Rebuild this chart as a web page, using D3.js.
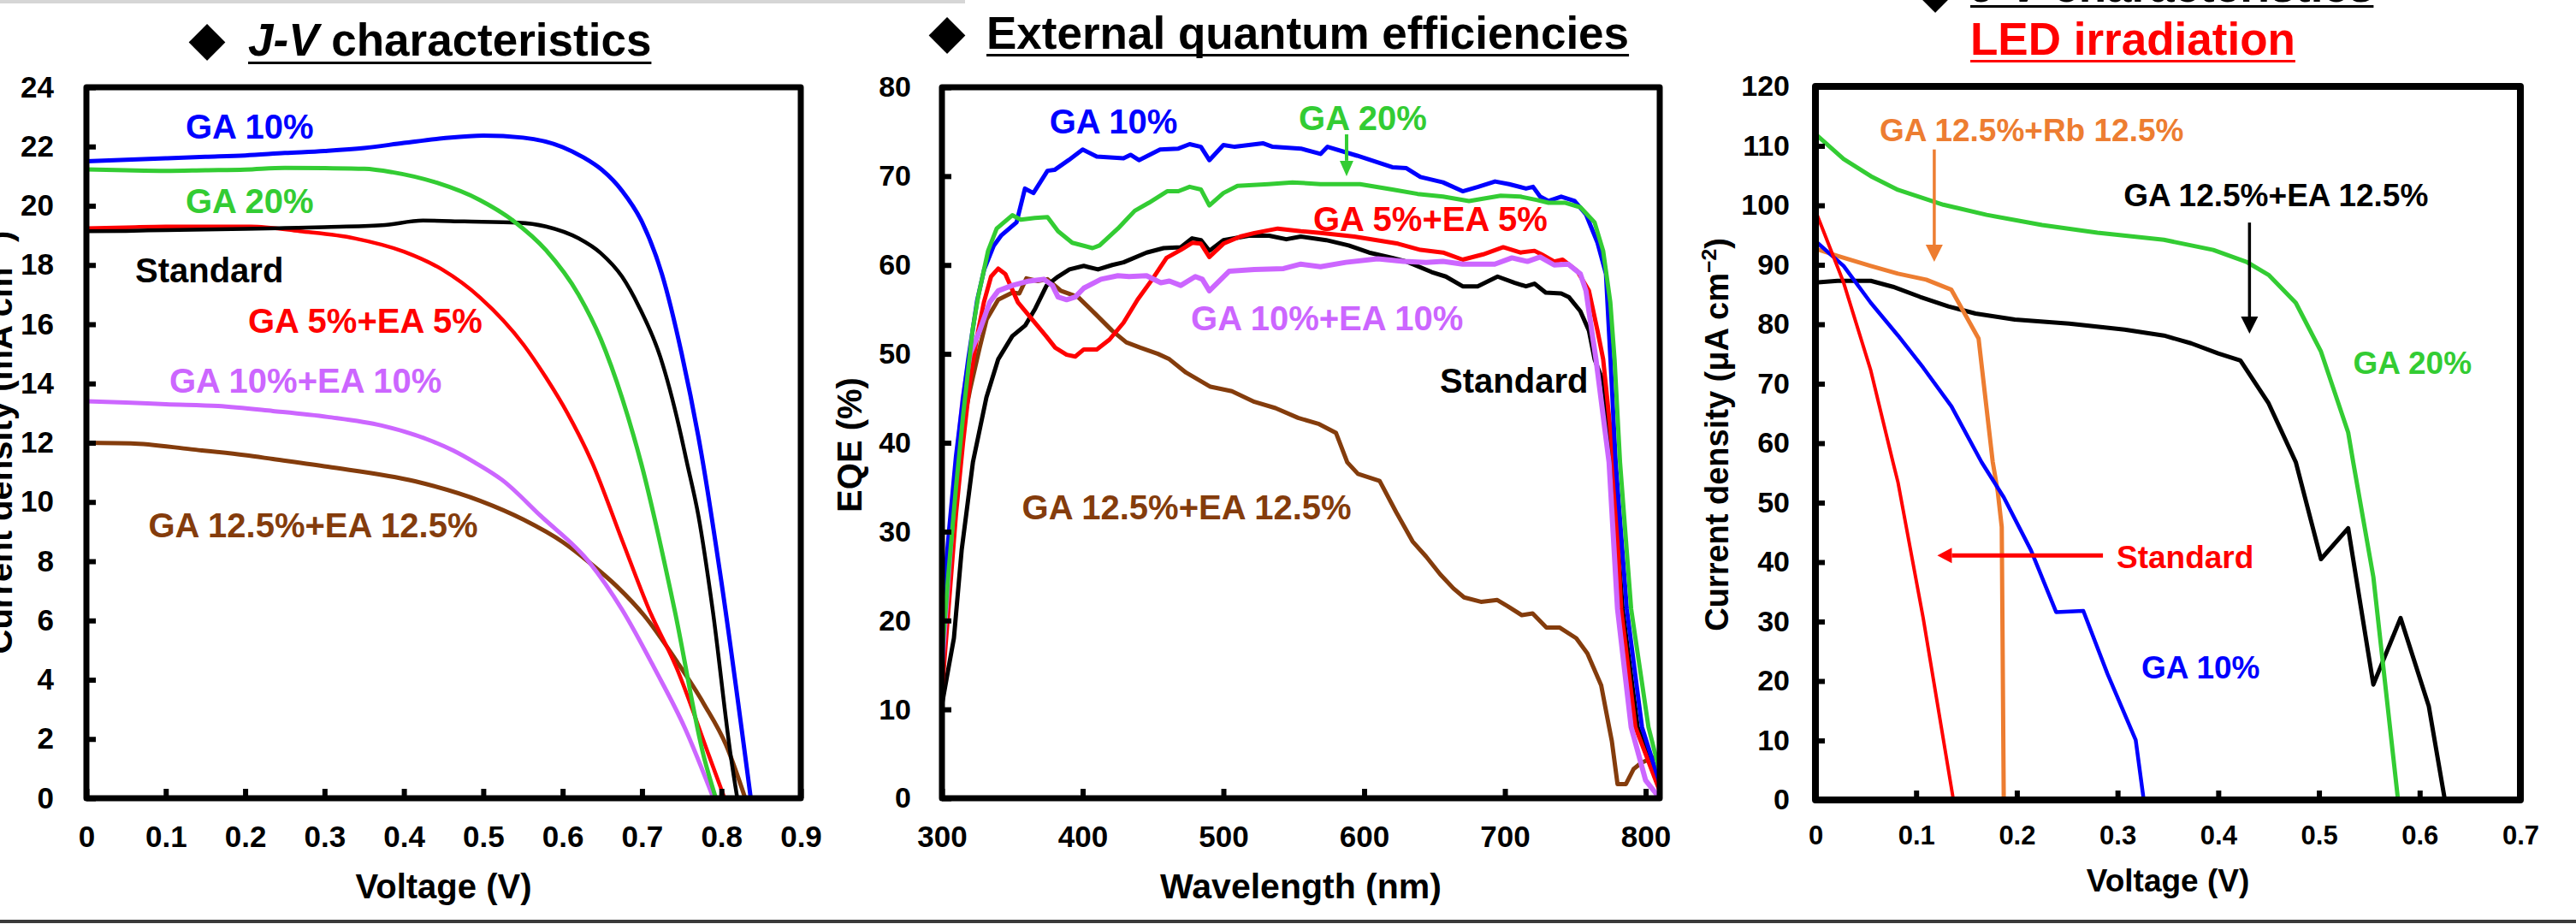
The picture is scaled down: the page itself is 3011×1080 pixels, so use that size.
<!DOCTYPE html>
<html><head><meta charset="utf-8">
<script src="https://cdn.jsdelivr.net/npm/d3@7"></script>
<style>
html,body{margin:0;padding:0;background:#fff;}
svg{display:block;}
text{font-family:"Liberation Sans",Arial,Helvetica,sans-serif;font-weight:bold;}
</style></head><body>
<svg id="c" width="3011" height="1080"></svg>
<script>
// ---------- Panel 1 : J-V characteristics (V, mA cm-2) ----------
const jvGA10 = [[0,21.5],[0.05,21.55],[0.1,21.6],[0.15,21.65],[0.2,21.7],[0.25,21.78],[0.3,21.85],[0.35,21.95],[0.4,22.12],[0.45,22.28],[0.5,22.37],[0.55,22.3],[0.6,21.98],[0.625,21.65],[0.65,21.2],[0.675,20.5],[0.7,19.45],[0.725,17.7],[0.75,15.0],[0.775,11.6],[0.8,7.3],[0.837,0]];
const jvGA20 = [[0,21.23],[0.05,21.2],[0.1,21.18],[0.15,21.2],[0.2,21.22],[0.25,21.28],[0.3,21.27],[0.35,21.25],[0.386,21.13],[0.441,20.78],[0.496,20.19],[0.538,19.49],[0.579,18.5],[0.62,17.0],[0.648,15.5],[0.675,13.5],[0.699,11.3],[0.741,6.36],[0.778,1.39],[0.793,0]];
const jvStd  = [[0,19.14],[0.05,19.15],[0.1,19.18],[0.15,19.2],[0.2,19.22],[0.25,19.25],[0.3,19.28],[0.372,19.34],[0.424,19.5],[0.476,19.47],[0.544,19.43],[0.579,19.3],[0.62,18.9],[0.648,18.4],[0.675,17.6],[0.696,16.6],[0.723,14.9],[0.747,12.5],[0.756,11.4],[0.771,9.54],[0.789,6.36],[0.812,1.39],[0.82,0]];
const jvGA5EA5 = [[0,19.24],[0.05,19.27],[0.1,19.3],[0.15,19.3],[0.207,19.3],[0.269,19.14],[0.338,18.9],[0.4,18.45],[0.448,17.85],[0.496,16.9],[0.551,15.3],[0.579,14.2],[0.606,13.0],[0.637,11.34],[0.675,8.7],[0.709,6.36],[0.744,4.37],[0.785,1.39],[0.804,0]];
const jvGA10EA10 = [[0,13.4],[0.05,13.36],[0.1,13.3],[0.166,13.24],[0.235,13.07],[0.304,12.87],[0.372,12.58],[0.428,12.13],[0.462,11.74],[0.489,11.34],[0.524,10.74],[0.572,9.54],[0.634,7.95],[0.675,6.36],[0.716,4.37],[0.754,2.37],[0.79,0]];
const jvGA125EA125 = [[0,12.0],[0.056,11.98],[0.132,11.78],[0.2,11.58],[0.235,11.45],[0.304,11.19],[0.414,10.7],[0.496,10.04],[0.551,9.4],[0.6,8.65],[0.634,7.95],[0.668,7.16],[0.703,6.16],[0.745,4.57],[0.778,3.18],[0.806,1.79],[0.83,0]];
const jvXTicks = [0,0.1,0.2,0.3,0.4,0.5,0.6,0.7,0.8,0.9];
const jvYTicks = [0,2,4,6,8,10,12,14,16,18,20,22,24];

// ---------- Panel 2 : EQE (nm, %) ----------
const eqeGA10 = [[300,21],[305,30],[310,38.5],[315,45],[318.7,49.4],[325,56],[330,59.5],[336.9,62.2],[342,63.3],[353,64.8],[359,68.6],[365,68.1],[375,70.6],[380,70.7],[390,71.8],[400,73.0],[410,72.2],[429,72.0],[434,72.4],[440,71.8],[455,73.0],[468,73.1],[476,73.6],[484,73.3],[490,71.8],[500,73.5],[508,73.3],[528,73.7],[535,73.3],[555,73.1],[569,72.5],[574,73.3],[595,72.3],[620,71.0],[630,70.9],[640,69.9],[656,69.3],[670,68.3],[681,68.8],[693,69.4],[703,69.1],[715,68.6],[720,68.8],[725,67.7],[731,67.2],[740,67.7],[749.5,67.2],[757.6,65.7],[765.8,62.5],[771.8,59.0],[775,49.4],[778.7,37.8],[786.6,21.3],[797.4,8.0],[810,1.7]];
const eqeGA20 = [[300,16],[305,26],[310,35],[315,43],[321.7,52.6],[325.7,56.4],[332.8,61.6],[338.9,64.1],[350,65.6],[356,65.1],[366,65.3],[375,65.4],[382.5,63.8],[392.6,62.5],[407,61.9],[412,62.2],[425,64.1],[437,66.1],[447,67.0],[460,68.3],[468,68.3],[476,68.8],[484,68.5],[490,66.7],[500,68.1],[510,68.9],[532,69.1],[549,69.3],[569,69.1],[597,69.1],[620,68.5],[638,68.0],[656,67.7],[674.5,67.2],[697,67.8],[711,67.7],[723,67.3],[731,67.0],[743,67.0],[753.6,66.5],[763.7,64.8],[769.8,61.6],[774.9,55.8],[777.9,49.4],[781.8,37.8],[789.7,21.3],[802,8.0],[810,3.0]];
const eqeGA5EA5 = [[300,12],[305,22],[310,32],[315,40],[320,47],[325,52],[329.8,55.8],[334.9,58.7],[340,59.6],[345,59.0],[354,55.8],[364,53.9],[374,52.0],[380.5,50.7],[388.6,49.9],[394.7,49.7],[400.8,50.5],[410,50.5],[419,51.6],[429,53.5],[439,56.1],[449.5,58.4],[459.6,60.8],[469.7,61.7],[477.8,62.5],[484,62.4],[490,60.9],[500,62.4],[512,63.2],[522,63.6],[538.6,64.1],[555,63.8],[569,63.6],[593,63.2],[624,62.4],[640,61.7],[656,61.4],[670,60.6],[684.6,61.2],[698.8,62.0],[711,61.4],[721,61.6],[726,61.2],[735,60.4],[741,60.6],[751.5,59.3],[759.7,57.1],[765.8,52.6],[769.8,49.4],[777.3,37.8],[782.6,21.3],[792.7,8.0],[810,0.8]];
const eqeStd = [[300,10.5],[304.6,14.6],[308.5,18],[314,27.9],[322,37.8],[331.6,45.1],[340,49.4],[350,52.0],[359.2,53.2],[366.3,55.1],[374.4,57.7],[382.5,58.7],[390.6,59.5],[400.8,59.9],[410.9,59.5],[421,60.0],[429,60.3],[445.4,61.4],[457.5,61.9],[469.7,62.0],[477.8,63.0],[484,62.8],[490,61.6],[500,62.8],[518,63.3],[532.5,63.3],[544.7,62.9],[554.9,63.2],[573,62.8],[589,62.2],[603.5,61.4],[620,60.8],[630,60.4],[648,59.2],[658,58.7],[670,57.6],[680.6,57.6],[694.8,58.7],[707,58.0],[715,57.6],[721,57.9],[729,56.9],[740,56.8],[745.4,56.4],[753.6,54.8],[759.7,52.6],[763.7,49.4],[770,46.8],[776,37.8],[783.6,21.3],[794.3,8.0],[810,1.5]];
const eqeGA10EA10 = [[300,15],[305,26],[310,37],[315,45],[320,50],[326.8,52.6],[333.9,55.8],[340,57.1],[350,57.7],[362,58.2],[372.4,58.4],[378.5,57.7],[382.5,56.4],[388.6,56.1],[394.7,56.4],[400.8,57.4],[413,58.4],[425,58.8],[433,58.7],[445.4,58.8],[455.5,58.0],[461.6,58.2],[469.7,57.7],[480,58.7],[485,58.4],[490,57.1],[504,59.3],[522,59.5],[542.7,59.6],[555,60.1],[569,59.8],[587,60.3],[609.6,60.7],[628,60.4],[644,60.3],[656,60.4],[670,60.1],[692.8,60.1],[705,60.8],[716,60.4],[725,60.9],[735,60.0],[745,60.1],[753.6,59.0],[757.6,57.1],[761.7,52.6],[764.7,49.4],[774,37.8],[780,21.3],[789.7,8.0],[800,2.0],[810,0]];
const eqeGA125EA125 = [[300,13],[305,25],[310,36],[315,42],[320,46],[326.8,50.7],[331.8,53.9],[340,56.1],[350,56.9],[355,56.8],[360,58.5],[368,58.2],[375,58.4],[384.5,57.1],[396.7,56.4],[409,54.5],[421,52.6],[431,51.3],[441,50.7],[453.5,50.0],[461.6,49.4],[473.4,47.9],[490.8,46.3],[506,45.8],[522,44.6],[537,43.9],[553,42.8],[568,42.1],[580,41.1],[588,37.8],[595.6,36.5],[611,35.7],[622.7,32.2],[634.4,28.9],[644,27.2],[654,25.2],[663.5,23.6],[671,22.6],[683,22.1],[694.6,22.3],[702,21.6],[712,20.6],[719.7,20.8],[729.5,19.2],[739,19.2],[750.7,18.0],[758.6,16.3],[768.4,12.7],[772,9.7],[776,6.4],[780,1.6],[786,1.6],[791.5,3.3],[797,4.0],[810,4.9]];
const eqeXTicks = [300,400,500,600,700,800];
const eqeYTicks = [0,10,20,30,40,50,60,70,80];

// ---------- Panel 3 : J-V under LED irradiation (V, uA cm-2) ----------
const ledGA20 = [[0,112.0],[0.028,107.8],[0.055,104.9],[0.082,102.6],[0.127,100.1],[0.17,98.4],[0.225,96.7],[0.28,95.4],[0.346,94.2],[0.395,92.5],[0.428,90.5],[0.45,88.3],[0.477,83.6],[0.502,75.4],[0.529,61.8],[0.534,56.8],[0.554,37.5],[0.5785,0]];
const ledGA125EA125 = [[0,87.0],[0.022,87.3],[0.055,87.3],[0.077,86.3],[0.104,84.6],[0.132,83.0],[0.159,81.8],[0.198,80.8],[0.252,80.1],[0.307,79.1],[0.346,78.1],[0.373,76.8],[0.40,75.1],[0.422,73.9],[0.45,66.7],[0.477,56.8],[0.502,40.5],[0.529,45.7],[0.554,19.4],[0.581,30.6],[0.609,15.8],[0.625,0]];
const ledGA125Rb125 = [[0,92.7],[0.022,91.5],[0.055,89.8],[0.082,88.5],[0.11,87.5],[0.135,85.8],[0.162,77.6],[0.176,56.9],[0.181,51.9],[0.185,45.9],[0.187,0]];
const ledGA10 = [[0,94.0],[0.028,89.8],[0.055,83.6],[0.082,78.1],[0.107,72.7],[0.135,66.2],[0.165,56.8],[0.187,50.9],[0.214,42.0],[0.239,31.6],[0.266,31.8],[0.29,21.2],[0.318,10.1],[0.326,0]];
const ledStd = [[0,99.1],[0.028,87.0],[0.055,72.2],[0.077,56.8],[0.082,53.4],[0.107,30.6],[0.137,0]];
const ledXTicks = [0,0.1,0.2,0.3,0.4,0.5,0.6,0.7];
const ledYTicks = [0,10,20,30,40,50,60,70,80,90,100,110,120];

const C = {blue:"#0000ff", green:"#33cc33", red:"#ff0000", black:"#000000", purple:"#cc66ff", brown:"#843c0c", orange:"#ed7d31"};

const svg = d3.select("#c");
svg.append("rect").attr("width",3011).attr("height",1080).attr("fill","#fff");
svg.append("rect").attr("x",0).attr("y",0).attr("width",1128).attr("height",4).attr("fill","#d6d6d6");
svg.append("rect").attr("x",0).attr("y",1075).attr("width",3011).attr("height",4).attr("fill","#3a3a3a");

const fmtV = d => d === 0 ? "0" : d3.format(".1f")(d);

function panel(cfg){
  const x = d3.scaleLinear().domain(cfg.xDomain).range([cfg.left, cfg.right]);
  const y = d3.scaleLinear().domain(cfg.yDomain).range([cfg.bottom, cfg.top]);
  const g = svg.append("g");
  const line = d3.line().x(d=>x(d[0])).y(d=>y(d[1])).curve(cfg.curve);
  cfg.series.forEach(s=>{
    g.append("path").datum(s.data).attr("d",line).attr("fill","none")
      .attr("stroke",s.color).attr("stroke-width",s.w).attr("stroke-linejoin","round").attr("stroke-linecap","round");
  });
  const ax = g.append("g").attr("transform",`translate(0,${cfg.bottom})`)
    .call(d3.axisBottom(x).tickValues(cfg.xTicks).tickFormat(cfg.xFmt).tickSizeInner(-cfg.tickLen).tickSizeOuter(0).tickPadding(cfg.xPad));
  ax.select(".domain").remove();
  ax.selectAll(".tick line").attr("stroke","#000").attr("stroke-width",cfg.tickW);
  ax.selectAll(".tick text").attr("font-size",cfg.xFs).attr("fill","#000");
  const ay = g.append("g").attr("transform",`translate(${cfg.left},0)`)
    .call(d3.axisLeft(y).tickValues(cfg.yTicks).tickSizeInner(-cfg.tickLen).tickSizeOuter(0).tickPadding(cfg.yPad));
  ay.select(".domain").remove();
  ay.selectAll(".tick line").attr("stroke","#000").attr("stroke-width",cfg.tickW);
  ay.selectAll(".tick text").attr("font-size",cfg.yFs).attr("fill","#000");
  g.append("rect").attr("x",cfg.left).attr("y",cfg.top).attr("width",cfg.right-cfg.left).attr("height",cfg.bottom-cfg.top)
    .attr("fill","none").attr("stroke","#000").attr("stroke-width",cfg.frameW).attr("stroke-linejoin","round");
  // labels
  cfg.labels.forEach(l=>{
    g.append("text").attr("x",x(l.x)).attr("y",y(l.y)).attr("font-size",l.fs).attr("fill",l.color).text(l.t);
  });
  (cfg.arrows||[]).forEach(a=>{
    const x1=x(a.from[0]), y1=y(a.from[1]), x2=x(a.to[0]), y2=y(a.to[1]);
    const ang=Math.atan2(y2-y1,x2-x1), L=a.head, W=a.hw;
    const bx=x2-L*Math.cos(ang), by=y2-L*Math.sin(ang);
    g.append("line").attr("x1",x1).attr("y1",y1).attr("x2",bx).attr("y2",by).attr("stroke",a.color).attr("stroke-width",a.w);
    const px=-Math.sin(ang)*W, py=Math.cos(ang)*W;
    g.append("path").attr("d",`M${x2},${y2}L${bx+px},${by+py}L${bx-px},${by-py}Z`).attr("fill",a.color);
  });
  // axis titles
  g.append("text").attr("x",(cfg.left+cfg.right)/2).attr("y",cfg.xTitleY).attr("text-anchor","middle")
    .attr("font-size",cfg.xTitleFs).text(cfg.xTitle);
  const yt = g.append("text").attr("transform",`translate(${cfg.yTitleX},${cfg.yTitleCy}) rotate(-90)`)
    .attr("text-anchor","middle").attr("font-size",cfg.yTitleFs);
  yt.append("tspan").text(cfg.yTitle[0]);
  if(cfg.yTitle[1]){
    yt.append("tspan").attr("font-size",cfg.yTitleFs*0.65).attr("dy",-cfg.yTitleFs*0.38).text(cfg.yTitle[1]);
    yt.append("tspan").attr("dy",cfg.yTitleFs*0.38).text(cfg.yTitle[2]);
  }
  return {x,y};
}

function title(cfg){
  svg.append("text").attr("x",cfg.dx).attr("y",cfg.dy).attr("text-anchor","middle")
    .style("font-family","'DejaVu Sans'").attr("font-size",cfg.dfs).attr("fill","#000").text("\u25C6");
  const t = svg.append("text").attr("x",cfg.x).attr("y",cfg.y).attr("font-size",cfg.fs).attr("fill",cfg.color||"#000");
  cfg.parts.forEach(p=>{ const s=t.append("tspan").text(p.t); if(p.i) s.attr("font-style","italic"); });
  const bb = t.node().getBBox();
  svg.append("rect").attr("x",bb.x).attr("y",cfg.y+cfg.ul).attr("width",bb.width).attr("height",3).attr("fill",cfg.color||"#000");
}
function titleNoDiamond(cfg){
  const t = svg.append("text").attr("x",cfg.x).attr("y",cfg.y).attr("font-size",cfg.fs).attr("fill",cfg.color);
  t.text(cfg.t);
  const bb = t.node().getBBox();
  svg.append("rect").attr("x",bb.x).attr("y",cfg.y+cfg.ul).attr("width",bb.width).attr("height",3).attr("fill",cfg.color);
}

// Panel 1
panel({left:101,right:936,top:102,bottom:933,xDomain:[0,0.9],yDomain:[0,24],xTicks:jvXTicks,yTicks:jvYTicks,xFmt:fmtV,
  tickLen:11,tickW:6,frameW:7,xPad:32,yPad:38,xFs:35,yFs:35,curve:d3.curveMonotoneX,
  series:[
    {data:jvGA125EA125,color:C.brown,w:5},
    {data:jvGA10EA10,color:C.purple,w:5},
    {data:jvGA5EA5,color:C.red,w:4.5},
    {data:jvStd,color:C.black,w:4.5},
    {data:jvGA20,color:C.green,w:5},
    {data:jvGA10,color:C.blue,w:5}],
  labels:[
    {t:"GA 10%",x:0.125,y:22.26,color:C.blue,fs:40},
    {t:"GA 20%",x:0.125,y:19.76,color:C.green,fs:40},
    {t:"Standard",x:0.0614,y:17.41,color:C.black,fs:40},
    {t:"GA 5%+EA 5%",x:0.2037,y:15.71,color:C.red,fs:40},
    {t:"GA 10%+EA 10%",x:0.1045,y:13.69,color:C.purple,fs:40},
    {t:"GA 12.5%+EA 12.5%",x:0.0781,y:8.81,color:C.brown,fs:40}],
  xTitle:"Voltage (V)",xTitleY:1050,xTitleFs:40,
  yTitle:["Current density (mA cm","\u22122",")"],yTitleX:14,yTitleCy:517,yTitleFs:40});

// Panel 2
panel({left:1101,right:1940,top:102,bottom:933,xDomain:[300,810],yDomain:[0,80],xTicks:eqeXTicks,yTicks:eqeYTicks,xFmt:d3.format("d"),
  tickLen:11,tickW:6,frameW:7,xPad:32,yPad:36,xFs:35,yFs:34,curve:d3.curveLinear,
  series:[
    {data:eqeGA125EA125,color:C.brown,w:5},
    {data:eqeStd,color:C.black,w:5},
    {data:eqeGA5EA5,color:C.red,w:5},
    {data:eqeGA10EA10,color:C.purple,w:6},
    {data:eqeGA10,color:C.blue,w:5},
    {data:eqeGA20,color:C.green,w:5}],
  labels:[
    {t:"GA 10%",x:376.4,y:74.8,color:C.blue,fs:40},
    {t:"GA 20%",x:553.5,y:75.2,color:C.green,fs:40},
    {t:"GA 5%+EA 5%",x:563.8,y:63.8,color:C.red,fs:40},
    {t:"GA 10%+EA 10%",x:476.9,y:52.7,color:C.purple,fs:40},
    {t:"Standard",x:653.8,y:45.6,color:C.black,fs:40},
    {t:"GA 12.5%+EA 12.5%",x:356.9,y:31.4,color:C.brown,fs:40}],
  arrows:[{from:[587.5,74.7],to:[587.5,70.0],color:C.green,w:4,head:18,hw:8}],
  xTitle:"Wavelength (nm)",xTitleY:1050,xTitleFs:41,
  yTitle:["EQE (%)"],yTitleX:1007,yTitleCy:520,yTitleFs:40});

// Panel 3
panel({left:2122,right:2946,top:101,bottom:935,xDomain:[0,0.7],yDomain:[0,120],xTicks:ledXTicks,yTicks:ledYTicks,xFmt:fmtV,
  tickLen:11,tickW:6,frameW:8,xPad:30,yPad:30,xFs:31,yFs:34,curve:d3.curveLinear,
  series:[
    {data:ledGA125EA125,color:C.black,w:5},
    {data:ledGA20,color:C.green,w:5},
    {data:ledGA125Rb125,color:C.orange,w:5},
    {data:ledGA10,color:C.blue,w:4.5},
    {data:ledStd,color:C.red,w:4}],
  labels:[
    {t:"GA 12.5%+Rb 12.5%",x:0.0637,y:110.8,color:C.orange,fs:37},
    {t:"GA 12.5%+EA 12.5%",x:0.306,y:99.9,color:C.black,fs:37},
    {t:"GA 20%",x:0.534,y:71.7,color:C.green,fs:37},
    {t:"Standard",x:0.299,y:39.0,color:C.red,fs:37},
    {t:"GA 10%",x:0.3237,y:20.4,color:C.blue,fs:37}],
  arrows:[
    {from:[0.118,109.4],to:[0.118,90.5],color:C.orange,w:3.5,head:20,hw:10},
    {from:[0.431,97.1],to:[0.431,78.4],color:C.black,w:3.5,head:20,hw:10},
    {from:[0.2855,41.1],to:[0.121,41.1],color:C.red,w:5,head:17,hw:9}],
  xTitle:"Voltage (V)",xTitleY:1042,xTitleFs:37,
  yTitle:["Current density (\u03bcA cm","\u22122",")"],yTitleX:2020,yTitleCy:508,yTitleFs:38});

// Titles
title({dx:242,dy:64,dfs:56,x:290,y:65,fs:53,ul:7,parts:[{t:"J-V",i:true},{t:" characteristics"}]});
title({dx:1107,dy:56,dfs:56,x:1153,y:57,fs:53,ul:6,parts:[{t:"External quantum efficiencies"}]});
title({dx:2262,dy:8,dfs:56,x:2303,y:2,fs:53,ul:4,parts:[{t:"J-V",i:true},{t:" characteristics"}]});
titleNoDiamond({x:2303,y:64,fs:53,ul:6,color:"#ff0000",t:"LED irradiation"});
</script>
</body></html>
